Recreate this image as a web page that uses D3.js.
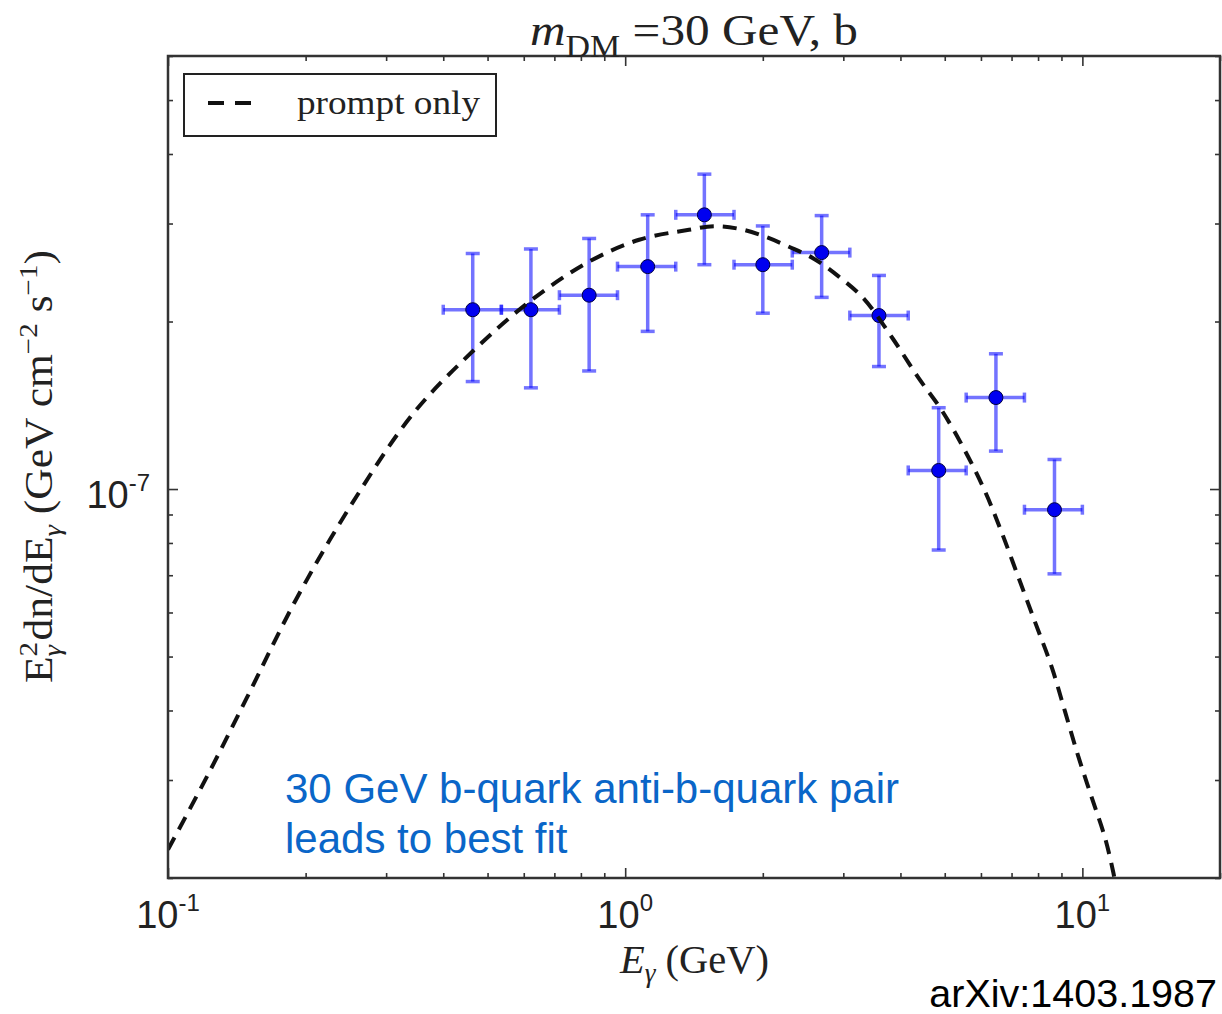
<!DOCTYPE html>
<html>
<head>
<meta charset="utf-8">
<script src="https://cdn.jsdelivr.net/npm/d3@7"></script>
<style>
  html, body { margin: 0; padding: 0; background: #fff; }
  svg { display: block; }
</style>
</head>
<body>
<svg id="chart" width="1222" height="1014"></svg>
<script>
// Binned gamma-ray spectrum: bin edges and centres in GeV, E^2 dN/dE in GeV cm^-2 s^-1
const binLow    = [0.400, 0.536, 0.718, 0.962, 1.29, 1.73, 2.32, 3.10, 4.16, 5.57, 7.47];
const binHigh   = [0.536, 0.718, 0.962, 1.29, 1.73, 2.32, 3.10, 4.16, 5.57, 7.47, 10.0];
const binEnergy = [0.464, 0.622, 0.834, 1.12, 1.49, 2.00, 2.69, 3.59, 4.85, 6.47, 8.69];
const flux      = [2.10e-7, 2.10e-7, 2.23e-7, 2.51e-7, 3.11e-7, 2.53e-7, 2.66e-7, 2.05e-7, 1.08e-7, 1.46e-7, 9.18e-8];
const fluxHigh  = [2.65e-7, 2.70e-7, 2.82e-7, 3.11e-7, 3.68e-7, 2.97e-7, 3.10e-7, 2.42e-7, 1.40e-7, 1.75e-7, 1.13e-7];
const fluxLow   = [1.56e-7, 1.52e-7, 1.63e-7, 1.92e-7, 2.53e-7, 2.07e-7, 2.21e-7, 1.66e-7, 7.77e-8, 1.17e-7, 7.04e-8];

// Prompt-only spectrum for a 30 GeV dark-matter particle annihilating to b b-bar
const promptEnergy = [0.100, 0.1225, 0.1485, 0.191, 0.2518, 0.3432, 0.464, 0.6223, 0.8345, 1.073,
                      1.379, 1.564, 1.774, 2.012, 2.281, 2.586, 2.933, 3.325, 3.834, 4.385,
                      4.930, 5.545, 6.133, 6.667, 7.249, 7.884, 8.570, 9.168, 9.801, 10.48,
                      11.21, 11.69, 11.80];
const promptFlux   = [2.25e-8, 3.075e-8, 4.204e-8, 6.352e-8, 9.376e-8, 1.364e-7, 1.768e-7, 2.182e-7, 2.563e-7, 2.805e-7,
                      2.923e-7, 2.966e-7, 2.935e-7, 2.846e-7, 2.725e-7, 2.594e-7, 2.408e-7, 2.199e-7, 1.872e-7, 1.582e-7,
                      1.383e-7, 1.169e-7, 9.877e-8, 8.342e-8, 6.933e-8, 5.760e-8, 4.786e-8, 3.976e-8, 3.304e-8, 2.792e-8,
                      2.360e-8, 2.044e-8, 1.96e-8];

// Axis ranges and labelled ticks
const xDomain = [0.1, 20];
const yDomain = [2e-8, 6e-7];
const xMajorTicks = [0.1, 1, 10];
const xMajorExponents = ["-1", "0", "1"];
const yMajorTicks = [1e-7];
const yMajorExponents = ["-7"];

const legendLabel = "prompt only";
const noteLines = ["30 GeV b-quark anti-b-quark pair", "leads to best fit"];
const sourceLabel = "arXiv:1403.1987";

const svg = d3.select("#chart");
const plot = { left: 168, top: 56, right: 1220, bottom: 878 };

const x = d3.scaleLog().domain(xDomain).range([plot.left, plot.right]);
const y = d3.scaleLog().domain(yDomain).range([plot.bottom, plot.top]);

const serif = "'Liberation Serif', 'Times New Roman', serif";
const sans = "'Liberation Sans', Arial, Helvetica, sans-serif";
const frameColor = "#333";

// writes a run of tspans with baseline shifts (positive shift = raised)
function rich(textSel, parts) {
  let cur = 0;
  parts.forEach(p => {
    const ts = textSel.append("tspan").text(p.text);
    if (p.size) ts.attr("font-size", p.size);
    if (p.italic) ts.attr("font-style", "italic");
    const target = p.shift || 0;
    const dy = cur - target;
    if (dy !== 0) ts.attr("dy", dy);
    if (p.dx) ts.attr("dx", p.dx);
    cur = target;
  });
}

// clip for data marks
svg.append("defs").append("clipPath").attr("id", "plotClip")
  .append("rect")
  .attr("x", plot.left).attr("y", plot.top)
  .attr("width", plot.right - plot.left).attr("height", plot.bottom - plot.top);

// ---- ticks (inward, on all four sides) ----
const xMinor = x.ticks().filter(v => !xMajorTicks.some(m => Math.abs(m - v) < 1e-9));
const yMinor = y.ticks().filter(v => !yMajorTicks.some(m => Math.abs(m - v) / m < 1e-6));

function styleAxis(g) {
  g.select(".domain").remove();
  g.selectAll(".tick line").attr("stroke", frameColor).attr("stroke-width", 1.6);
  g.selectAll(".tick text").remove();
}

[[d3.axisBottom, plot.bottom], [d3.axisTop, plot.top]].forEach(([ax, pos]) => {
  svg.append("g").attr("transform", `translate(0,${pos})`)
    .call(ax(x).tickValues(xMinor).tickSize(-5)).call(styleAxis);
  svg.append("g").attr("transform", `translate(0,${pos})`)
    .call(ax(x).tickValues(xMajorTicks).tickSize(-10)).call(styleAxis);
});
[[d3.axisLeft, plot.left], [d3.axisRight, plot.right]].forEach(([ax, pos]) => {
  svg.append("g").attr("transform", `translate(${pos},0)`)
    .call(ax(y).tickValues(yMinor).tickSize(-5)).call(styleAxis);
  svg.append("g").attr("transform", `translate(${pos},0)`)
    .call(ax(y).tickValues(yMajorTicks).tickSize(-10)).call(styleAxis);
});

// ---- tick labels with exponents ----
xMajorTicks.forEach((v, i) => {
  const t = svg.append("text")
    .attr("x", x(v)).attr("y", plot.bottom + 50)
    .attr("text-anchor", "middle")
    .attr("font-family", sans).attr("font-size", 38).attr("fill", "#222");
  rich(t, [{ text: "10" }, { text: xMajorExponents[i], size: 24, shift: 17 }]);
});
yMajorTicks.forEach((v, i) => {
  const t = svg.append("text")
    .attr("x", plot.left - 18).attr("y", y(v) + 19)
    .attr("text-anchor", "end")
    .attr("font-family", sans).attr("font-size", 38).attr("fill", "#222");
  rich(t, [{ text: "10" }, { text: yMajorExponents[i], size: 24, shift: 17 }]);
});

// ---- error bars ----
const errColor = "#0000ff";
const errOpacity = 0.55;
const pts = binEnergy.map((e, i) => ({
  e, f: flux[i], lo: binLow[i], hi: binHigh[i], fl: fluxLow[i], fh: fluxHigh[i]
}));

const eb = svg.append("g").attr("clip-path", "url(#plotClip)")
  .attr("stroke", errColor).attr("stroke-opacity", errOpacity).attr("stroke-width", 3.5).attr("fill", "none");

eb.selectAll("line.v").data(pts).join("line").attr("class", "v")
  .attr("x1", d => x(d.e)).attr("x2", d => x(d.e))
  .attr("y1", d => y(d.fh)).attr("y2", d => y(d.fl));
eb.selectAll("line.h").data(pts).join("line").attr("class", "h")
  .attr("x1", d => x(d.lo)).attr("x2", d => x(d.hi))
  .attr("y1", d => y(d.f)).attr("y2", d => y(d.f));
// caps
eb.selectAll("line.ct").data(pts).join("line").attr("class", "ct")
  .attr("x1", d => x(d.e) - 7).attr("x2", d => x(d.e) + 7)
  .attr("y1", d => y(d.fh)).attr("y2", d => y(d.fh));
eb.selectAll("line.cb").data(pts).join("line").attr("class", "cb")
  .attr("x1", d => x(d.e) - 7).attr("x2", d => x(d.e) + 7)
  .attr("y1", d => y(d.fl)).attr("y2", d => y(d.fl));
eb.selectAll("line.cl").data(pts).join("line").attr("class", "cl")
  .attr("x1", d => x(d.lo)).attr("x2", d => x(d.lo))
  .attr("y1", d => y(d.f) - 5).attr("y2", d => y(d.f) + 5);
eb.selectAll("line.cr").data(pts).join("line").attr("class", "cr")
  .attr("x1", d => x(d.hi)).attr("x2", d => x(d.hi))
  .attr("y1", d => y(d.f) - 5).attr("y2", d => y(d.f) + 5);

// markers
svg.append("g").selectAll("circle").data(pts).join("circle")
  .attr("cx", d => x(d.e)).attr("cy", d => y(d.f)).attr("r", 7)
  .attr("fill", "#0000f0").attr("stroke", "#000040").attr("stroke-width", 1);

// ---- prompt-only curve ----
const line = d3.line()
  .x(d => x(d[0])).y(d => y(d[1]))
  .curve(d3.curveCatmullRom.alpha(0.5));
svg.append("path")
  .datum(promptEnergy.map((e, i) => [e, promptFlux[i]]))
  .attr("clip-path", "url(#plotClip)")
  .attr("d", line)
  .attr("fill", "none").attr("stroke", "#111").attr("stroke-width", 4)
  .attr("stroke-dasharray", "14 9");

// ---- frame ----
svg.append("rect")
  .attr("x", plot.left).attr("y", plot.top)
  .attr("width", plot.right - plot.left).attr("height", plot.bottom - plot.top)
  .attr("fill", "none").attr("stroke", frameColor).attr("stroke-width", 2.5);

// ---- legend ----
const lg = svg.append("g");
lg.append("rect").attr("x", 184).attr("y", 74).attr("width", 312).attr("height", 62)
  .attr("fill", "#fff").attr("stroke", "#222").attr("stroke-width", 2);
lg.append("line").attr("x1", 208).attr("x2", 252).attr("y1", 103).attr("y2", 103)
  .attr("stroke", "#111").attr("stroke-width", 4).attr("stroke-dasharray", "16 11");
lg.append("text").attr("x", 297).attr("y", 114)
  .attr("font-family", serif).attr("font-size", 33).attr("fill", "#222")
  .attr("textLength", 183).attr("lengthAdjust", "spacingAndGlyphs")
  .text(legendLabel);

// ---- title ----
const title = svg.append("text")
  .attr("x", 530).attr("y", 45)
  .attr("font-family", serif).attr("font-size", 45).attr("fill", "#222")
  .attr("textLength", 328).attr("lengthAdjust", "spacingAndGlyphs");
rich(title, [
  { text: "m", italic: true },
  { text: "DM", size: 31, shift: -12 },
  { text: " =30 GeV, b", shift: 0 }
]);

// ---- axis labels ----
const xl = svg.append("text")
  .attr("x", 620).attr("y", 973)
  .attr("font-family", serif).attr("font-size", 40).attr("fill", "#222")
  .attr("textLength", 149).attr("lengthAdjust", "spacingAndGlyphs");
rich(xl, [
  { text: "E", italic: true },
  { text: "γ", italic: true, size: 27, shift: -9 },
  { text: " (GeV)", shift: 0 }
]);

const yl = svg.append("text")
  .attr("transform", "translate(52,683) rotate(-90)")
  .attr("font-family", serif).attr("font-size", 39).attr("fill", "#222")
  .attr("textLength", 433).attr("lengthAdjust", "spacingAndGlyphs");
rich(yl, [
  { text: "E" },
  { text: "2", size: 26, shift: 15 },
  { text: "γ", italic: true, size: 26, shift: -9, dx: -13 },
  { text: "dn/dE", shift: 0, dx: 4 },
  { text: "γ", italic: true, size: 26, shift: -9 },
  { text: " (GeV cm", shift: 0 },
  { text: "−2", size: 26, shift: 15 },
  { text: " s", shift: 0 },
  { text: "−1", size: 26, shift: 15 },
  { text: ")", shift: 0 }
]);

// ---- annotation ----
const note = svg.append("text")
  .attr("font-family", sans).attr("font-size", 42).attr("fill", "#0a66c8");
noteLines.forEach((s, i) => {
  note.append("tspan").attr("x", 285).attr("y", 803 + i * 50).text(s);
});

svg.append("text")
  .attr("x", 1217).attr("y", 1007)
  .attr("text-anchor", "end")
  .attr("font-family", sans).attr("font-size", 39.5).attr("fill", "#000")
  .text(sourceLabel);
</script>
</body>
</html>
